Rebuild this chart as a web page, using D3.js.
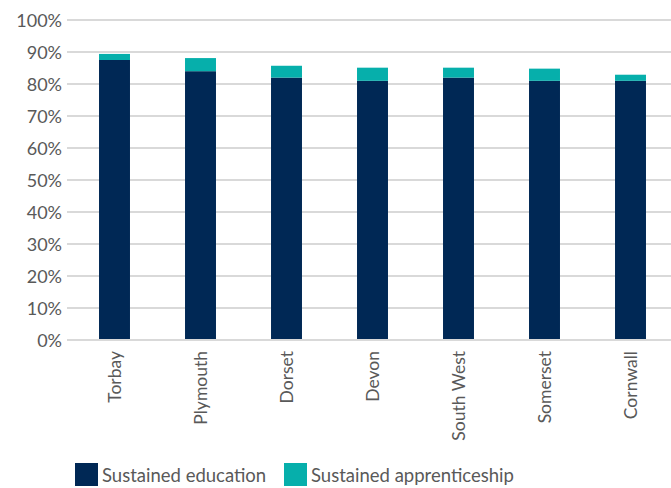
<!DOCTYPE html>
<html>
<head>
<meta charset="utf-8">
<script src="https://cdn.jsdelivr.net/npm/d3@7"></script>
<style>
  html, body { margin: 0; padding: 0; background: #fff; }
  svg text { font-family: Lato, "Open Sans", sans-serif; fill: #595959; }
</style>
</head>
<body>
<svg id="chart" width="671" height="488"></svg>
<script>
const categories = ["Torbay", "Plymouth", "Dorset", "Devon", "South West", "Somerset", "Cornwall"];
const sustainedEducation = [87.5, 84.0, 82.0, 81.0, 82.0, 81.0, 81.0];
const sustainedApprenticeship = [1.9, 4.1, 3.7, 4.1, 3.1, 3.8, 1.9];
const seriesNames = ["Sustained education", "Sustained apprenticeship"];
const yTicks = [0, 10, 20, 30, 40, 50, 60, 70, 80, 90, 100];
const colors = ["#002855", "#06AFAB"];

const svg = d3.select("#chart");
const gridLeft = 67, gridRight = 671;

const x = d3.scaleBand().domain(categories).range([71.5, 673.5]).paddingInner(0.64).paddingOuter(0.32);
const y = d3.scaleLinear().domain([0, 100]).range([340, 20]);

// gridlines
svg.append("g").selectAll("line").data(yTicks).join("line")
  .attr("x1", gridLeft).attr("x2", gridRight)
  .attr("y1", d => y(d)).attr("y2", d => y(d))
  .attr("stroke", "#d9d9d9").attr("stroke-width", 2);

// y axis labels
const yAxis = d3.axisLeft(y).tickValues(yTicks).tickSize(0).tickPadding(0).tickFormat(d => d + "%");
const yg = svg.append("g").attr("transform", `translate(62,0)`).call(yAxis);
yg.select(".domain").remove();
yg.selectAll("text").attr("font-size", 18).style("font-family", "Lato, sans-serif").attr("fill", "#595959").attr("dy", "0.35em");

// stacked data
const rows = categories.map((c, i) => ({ cat: c, edu: sustainedEducation[i], app: sustainedApprenticeship[i] }));
const stack = d3.stack().keys(["edu", "app"]);
const stacked = stack(rows);

svg.append("g").selectAll("g").data(stacked).join("g")
  .attr("fill", (d, i) => colors[i])
  .selectAll("rect").data(d => d).join("rect")
  .attr("x", d => x(d.data.cat))
  .attr("width", x.bandwidth())
  .attr("y", d => y(d[1]))
  .attr("height", d => y(d[0]) - y(d[1]));

// baseline
svg.append("line").attr("x1", gridLeft).attr("x2", gridRight)
  .attr("y1", y(0)).attr("y2", y(0)).attr("stroke", "#d9d9d9").attr("stroke-width", 2);

// x axis labels
const xAxis = d3.axisBottom(x).tickSize(0).tickPadding(0);
const xg = svg.append("g").attr("transform", `translate(0,${y(0)})`).call(xAxis);
xg.select(".domain").remove();
xg.selectAll("text")
  .attr("font-size", 17.5).style("font-family", "Lato, sans-serif").attr("fill", "#595959")
  .attr("text-anchor", "end")
  .attr("transform", "rotate(-90)")
  .attr("x", -11).attr("y", 0).attr("dy", "0.35em");

// legend
const legend = svg.append("g");
const legendX = [75, 284];
seriesNames.forEach((name, i) => {
  legend.append("rect").attr("x", legendX[i]).attr("y", 463).attr("width", 23).attr("height", 23).attr("fill", colors[i]);
  legend.append("text").attr("x", legendX[i] + 27).attr("y", 476).attr("dy", "0.35em")
    .attr("font-size", 18.5).text(name);
});
</script>
</body>
</html>
